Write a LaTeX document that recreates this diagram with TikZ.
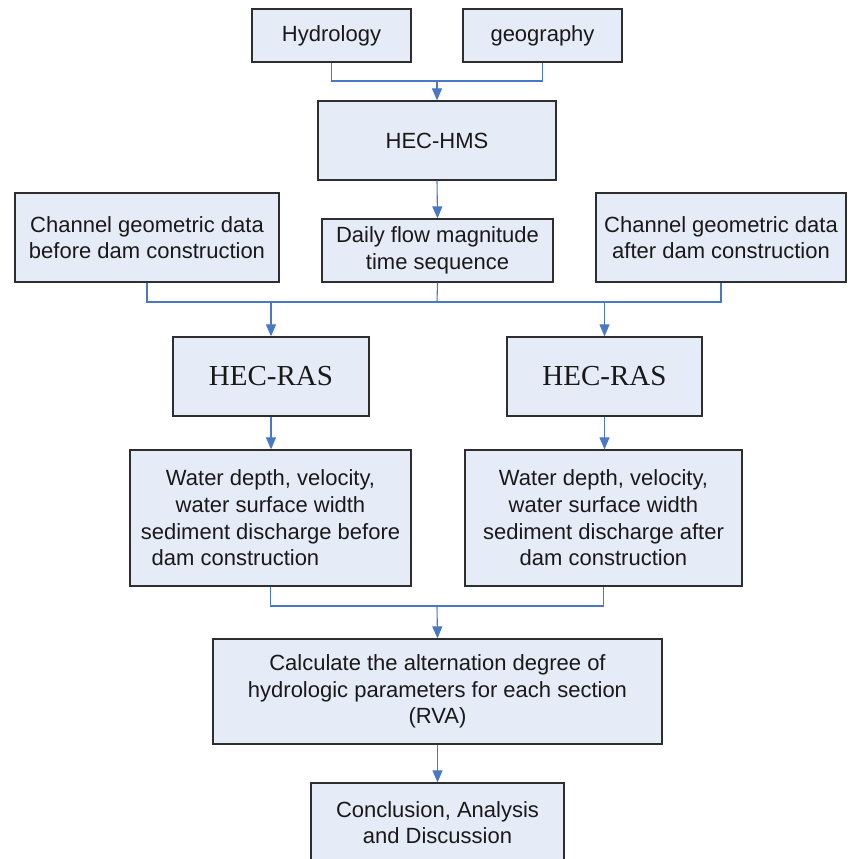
\documentclass[tikz,border=0pt]{standalone}
\usepackage{fontspec}
\setmainfont{Liberation Sans}
\newfontfamily\rasfont{Liberation Serif}
\usetikzlibrary{arrows.meta}
\definecolor{boxfill}{HTML}{E6ECF7}
\definecolor{boxline}{HTML}{2E2E2E}
\definecolor{conncol}{HTML}{4A78C4}
\tikzset{
  box/.style={draw=boxline, line width=1.3pt, fill=boxfill, rectangle, inner sep=0pt,
    align=center, text=black!90, font=\fontsize{22}{26.7}\selectfont},
  rasbox/.style={box, font=\rasfont\fontsize{29}{34}\selectfont},
  conn/.style={draw=conncol, line width=1.1pt},
  arr/.style={conn, -{Triangle[length=12pt,width=10pt]}, color=conncol}
}
\begin{document}
\begin{tikzpicture}[x=1pt,y=-1pt]
\useasboundingbox (0,0) rectangle (848,859);
\fill[white] (0,0) rectangle (848,859);
\node[box, minimum width=159pt, minimum height=53pt] (hyd) at (331.5,35.5) {Hydrology};
\node[box, minimum width=159pt, minimum height=53pt] (geo) at (542.5,35.5) {geography};
\node[box, minimum width=238pt, minimum height=79pt] (hms) at (437,140.5) {HEC-HMS};
\node[box, minimum width=264pt, minimum height=89pt] (chb) at (147,237.5) {Channel geometric data\\before dam construction};
\node[box, minimum width=231pt, minimum height=63pt] (daily) at (437.5,250.5) {Daily flow magnitude\\time sequence};
\node[box, minimum width=250pt, minimum height=89pt] (cha) at (721,237.5) {Channel geometric data\\after dam construction};
\node[rasbox, minimum width=196pt, minimum height=79pt] (rasL) at (271,376.5) {HEC-RAS};
\node[rasbox, minimum width=195pt, minimum height=79pt] (rasR) at (604.5,376.5) {HEC-RAS};
\node[box, minimum width=281pt, minimum height=136pt] (watL) at (270.5,518) {Water depth, velocity,\\water surface width\\sediment discharge before\\dam construction\hspace*{70pt}};
\node[box, minimum width=277pt, minimum height=136pt] (watR) at (603.5,518) {Water depth, velocity,\\water surface width\\sediment discharge after\\dam construction};
\node[box, minimum width=449pt, minimum height=105pt] (calc) at (437.5,691.5) {Calculate the alternation degree of\\hydrologic parameters for each section\\(RVA)};
\node[box, minimum width=253pt, minimum height=79pt] (conc) at (437.5,822.5) {Conclusion, Analysis\\and Discussion};
\coordinate (bus1) at (437,81);
\coordinate (bus2) at (437,302);
\coordinate (bus3) at (437,606);
\draw[conn] (hyd.south) |- (bus1) -| (geo.south);
\draw[arr] (bus1) -- (hms.north);
\draw[arr] (hms.south) -- (daily.north);
\draw[conn] (chb.south) |- (bus2) -| (cha.south);
\draw[conn] (daily.south) -- (bus2);
\draw[arr] (rasL.north |- bus2) -- (rasL.north);
\draw[arr] (rasR.north |- bus2) -- (rasR.north);
\draw[arr] (rasL.south) -- (rasL.south |- watL.north);
\draw[arr] (rasR.south) -- (rasR.south |- watR.north);
\draw[conn] (watL.south) |- (bus3) -| (watR.south);
\draw[arr] (bus3) -- (calc.north);
\draw[arr] (calc.south) -- (conc.north);
\end{tikzpicture}
\end{document}
